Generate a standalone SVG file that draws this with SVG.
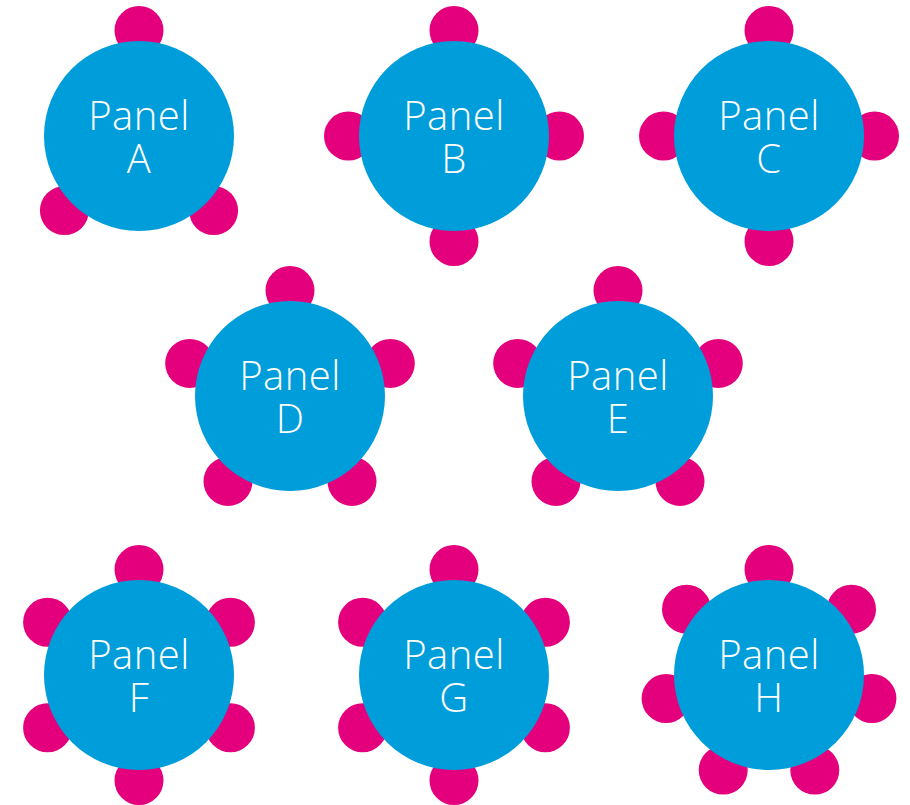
<svg xmlns="http://www.w3.org/2000/svg" width="910" height="805" viewBox="0 0 910 805">
<style>
.seat{fill:#e4007c}
.table{fill:#009ddb}
.lbl{fill:#ffffff;font-family:"Open Sans","Noto Sans","Liberation Sans",sans-serif;font-size:40px;font-weight:300;letter-spacing:0.5px;text-anchor:middle}
</style>
<rect width="910" height="805" fill="#ffffff"/>
<g id="panelA">
<circle class="seat" cx="139" cy="30.5" r="24.5"/>
<circle class="seat" cx="213.6" cy="210.6" r="24.5"/>
<circle class="seat" cx="64.4" cy="210.6" r="24.5"/>
<circle class="table" cx="139" cy="136" r="95"/>
<text class="lbl" x="139" y="130">Panel<tspan x="139" dy="43">A</tspan></text>
</g>
<g id="panelB">
<circle class="seat" cx="454" cy="30.5" r="24.5"/>
<circle class="seat" cx="559.5" cy="136" r="24.5"/>
<circle class="seat" cx="454" cy="241.5" r="24.5"/>
<circle class="seat" cx="348.5" cy="136" r="24.5"/>
<circle class="table" cx="454" cy="136" r="95"/>
<text class="lbl" x="454" y="130">Panel<tspan x="454" dy="43">B</tspan></text>
</g>
<g id="panelC">
<circle class="seat" cx="769" cy="30.5" r="24.5"/>
<circle class="seat" cx="874.5" cy="136" r="24.5"/>
<circle class="seat" cx="769" cy="241.5" r="24.5"/>
<circle class="seat" cx="663.5" cy="136" r="24.5"/>
<circle class="table" cx="769" cy="136" r="95"/>
<text class="lbl" x="769" y="130">Panel<tspan x="769" dy="43">C</tspan></text>
</g>
<g id="panelD">
<circle class="seat" cx="290" cy="290.5" r="24.5"/>
<circle class="seat" cx="390.3" cy="363.4" r="24.5"/>
<circle class="seat" cx="352" cy="481.4" r="24.5"/>
<circle class="seat" cx="228" cy="481.4" r="24.5"/>
<circle class="seat" cx="189.7" cy="363.4" r="24.5"/>
<circle class="table" cx="290" cy="396" r="95"/>
<text class="lbl" x="290" y="390">Panel<tspan x="290" dy="43">D</tspan></text>
</g>
<g id="panelE">
<circle class="seat" cx="618" cy="290.5" r="24.5"/>
<circle class="seat" cx="718.3" cy="363.4" r="24.5"/>
<circle class="seat" cx="680" cy="481.4" r="24.5"/>
<circle class="seat" cx="556" cy="481.4" r="24.5"/>
<circle class="seat" cx="517.7" cy="363.4" r="24.5"/>
<circle class="table" cx="618" cy="396" r="95"/>
<text class="lbl" x="618" y="390">Panel<tspan x="618" dy="43">E</tspan></text>
</g>
<g id="panelF">
<circle class="seat" cx="139" cy="569.5" r="24.5"/>
<circle class="seat" cx="230.4" cy="622.25" r="24.5"/>
<circle class="seat" cx="230.4" cy="727.75" r="24.5"/>
<circle class="seat" cx="139" cy="780.5" r="24.5"/>
<circle class="seat" cx="47.6" cy="727.75" r="24.5"/>
<circle class="seat" cx="47.6" cy="622.25" r="24.5"/>
<circle class="table" cx="139" cy="675" r="95"/>
<text class="lbl" x="139" y="669">Panel<tspan x="139" dy="43">F</tspan></text>
</g>
<g id="panelG">
<circle class="seat" cx="454" cy="569.5" r="24.5"/>
<circle class="seat" cx="545.4" cy="622.25" r="24.5"/>
<circle class="seat" cx="545.4" cy="727.75" r="24.5"/>
<circle class="seat" cx="454" cy="780.5" r="24.5"/>
<circle class="seat" cx="362.6" cy="727.75" r="24.5"/>
<circle class="seat" cx="362.6" cy="622.25" r="24.5"/>
<circle class="table" cx="454" cy="675" r="95"/>
<text class="lbl" x="454" y="669">Panel<tspan x="454" dy="43">G</tspan></text>
</g>
<g id="panelH">
<circle class="seat" cx="769" cy="569.5" r="24.5"/>
<circle class="seat" cx="851.5" cy="609.2" r="24.5"/>
<circle class="seat" cx="871.9" cy="698.5" r="24.5"/>
<circle class="seat" cx="814.8" cy="770.1" r="24.5"/>
<circle class="seat" cx="723.2" cy="770.1" r="24.5"/>
<circle class="seat" cx="666.1" cy="698.5" r="24.5"/>
<circle class="seat" cx="686.5" cy="609.2" r="24.5"/>
<circle class="table" cx="769" cy="675" r="95"/>
<text class="lbl" x="769" y="669">Panel<tspan x="769" dy="43">H</tspan></text>
</g>
</svg>
